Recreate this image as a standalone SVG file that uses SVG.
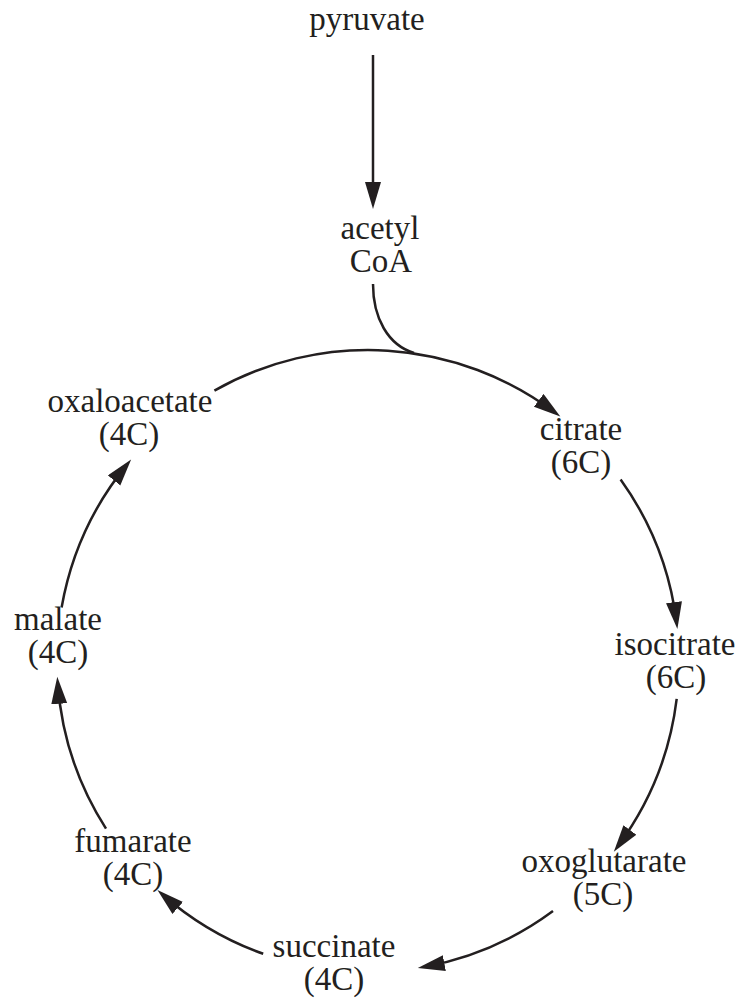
<svg xmlns="http://www.w3.org/2000/svg" width="739" height="999" viewBox="0 0 739 999">
<style>
text{font-family:"Liberation Serif","Times New Roman",serif;font-size:33px;fill:#231f20;text-anchor:middle}
.c{fill:none;stroke:#231f20;stroke-width:2.5}
</style>
<defs>
<marker id="ah" markerUnits="userSpaceOnUse" markerWidth="30" markerHeight="20" refX="20" refY="8" orient="auto" viewBox="0 0 30 20">
<path d="M0,0 L27,8 L0,16 z" fill="#231f20"/>
</marker>
</defs>
<rect width="739" height="999" fill="#fff"/>
<g id="connectors">
<path class="c" d="M373,55 L373,202" marker-end="url(#ah)"/>
<path class="c" d="M373,284 C373,318 388,345 414,353"/>
<path class="c" d="M214.4,390.6 A311,311 0 0 1 554.7,412.3" marker-end="url(#ah)"/>
<path class="c" d="M620.6,479.5 A311,311 0 0 1 676.5,622.0" marker-end="url(#ah)"/>
<path class="c" d="M676.7,698.9 A311,311 0 0 1 618.0,846.0" marker-end="url(#ah)"/>
<path class="c" d="M553.0,911.0 A311,311 0 0 1 424.7,966.8" marker-end="url(#ah)"/>
<path class="c" d="M263.2,953.8 A311,311 0 0 1 162.7,894.7" marker-end="url(#ah)"/>
<path class="c" d="M106.0,828.6 A311,311 0 0 1 57.8,683.8" marker-end="url(#ah)"/>
<path class="c" d="M61.6,607.5 A311,311 0 0 1 126.7,464.9" marker-end="url(#ah)"/>
</g>
<g id="pyruvate"><text x="367" y="30">pyruvate</text></g>
<g id="acetylcoa"><text x="380" y="239">acetyl</text><text x="381" y="272">CoA</text></g>
<g id="oxaloacetate"><text x="130" y="412">oxaloacetate</text><text x="129" y="445">(4C)</text></g>
<g id="citrate"><text x="581" y="440">citrate</text><text x="581" y="473">(6C)</text></g>
<g id="isocitrate"><text x="675" y="655">isocitrate</text><text x="676" y="688">(6C)</text></g>
<g id="oxoglutarate"><text x="604" y="872">oxoglutarate</text><text x="603" y="905">(5C)</text></g>
<g id="succinate"><text x="334" y="957">succinate</text><text x="334" y="990">(4C)</text></g>
<g id="fumarate"><text x="133" y="852">fumarate</text><text x="133" y="885">(4C)</text></g>
<g id="malate"><text x="58" y="630">malate</text><text x="58" y="663">(4C)</text></g>
</svg>
